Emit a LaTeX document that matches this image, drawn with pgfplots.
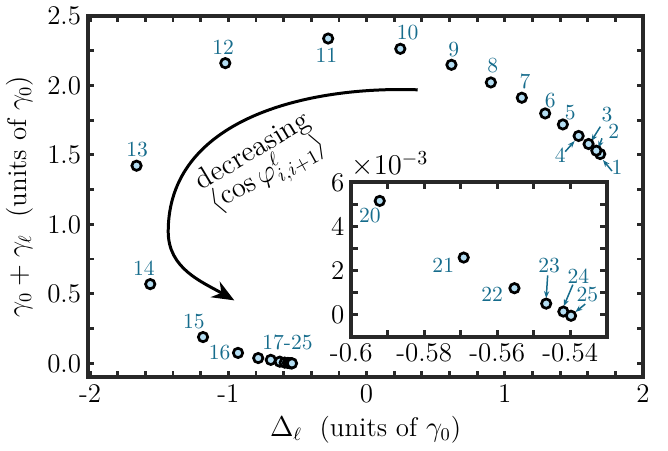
\documentclass[border=0pt]{standalone}
\usepackage{pgfplots}
\pgfplotsset{compat=1.18}
\usetikzlibrary{arrows.meta}

\definecolor{lblue}{RGB}{22,108,140}
\definecolor{mfill}{RGB}{180,222,243}
\definecolor{framec}{RGB}{40,40,40}

\pgfplotsset{
  boxframe/.style={
    scale only axis,
    axis line style={framec, line width=1.9bp},
    tick style={framec, line width=1.4bp},
    tick align=inside,
    major tick length=3.2bp,
    minor tick length=3.2bp,
    every tick label/.append style={font=\fontsize{13.5bp}{16bp}\selectfont},
    label style={font=\fontsize{13.5bp}{16bp}\selectfont},
    clip=false,
  },
  pts/.style={only marks, mark=*, mark size=2.35bp,
    mark options={fill=mfill, draw=black, line width=1.35bp}},
}
\tikzset{
  lbl/.style={text=lblue, font=\fontsize{10.8bp}{12bp}\selectfont, inner sep=0pt},
  lar/.style={-{Stealth[length=3.5bp,width=2.6bp]}, lblue, line width=0.75bp},
}

\begin{document}
\begin{tikzpicture}
\begin{axis}[boxframe,
  width=278bp, height=181bp,
  xmin=-2.015, xmax=2, ymin=-0.1, ymax=2.5,
  xtick={-2,-1,0,1,2}, xticklabels={-2,-1,0,1,2},
  minor xtick={-1.8,-1.6,-1.4,-1.2,-0.8,-0.6,-0.4,-0.2,0.2,0.4,0.6,0.8,1.2,1.4,1.6,1.8},
  ytick={0,0.5,1,1.5,2,2.5}, yticklabels={0.0,0.5,1.0,1.5,2.0,2.5},
  minor ytick={0.25,0.75,1.25,1.75,2.25},
  xlabel={$\Delta_\ell$\ \ (units of $\gamma_0$)},
  ylabel={$\gamma_0+\gamma_\ell$\ \ (units of $\gamma_0$)},
]
\addplot[pts] coordinates {
  (1.690,1.506) (1.662,1.530) (1.606,1.578) (1.534,1.636) (1.420,1.719)
  (1.292,1.798) (1.123,1.911) (0.899,2.021) (0.614,2.148) (0.244,2.263)
  (-0.278,2.337) (-1.022,2.160) (-1.664,1.422) (-1.565,0.570) (-1.183,0.189)
  (-0.930,0.075) (-0.784,0.038) (-0.693,0.025) (-0.628,0.012)
  (-0.5922,0.00516) (-0.5692,0.00259) (-0.5553,0.0012) (-0.5466,0.0005)
  (-0.5419,0.00014) (-0.5398,-0.00005)
};
% point labels
\node[lbl] at (axis cs:1.812,1.408) {1};
\node[lbl] at (axis cs:1.788,1.672) {2};
\node[lbl] at (axis cs:1.739,1.789) {3};
\node[lbl] at (axis cs:1.401,1.499) {4};
\node[lbl] at (axis cs:1.473,1.805) {5};
\node[lbl] at (axis cs:1.328,1.894) {6};
\node[lbl] at (axis cs:1.147,2.026) {7};
\node[lbl] at (axis cs:0.913,2.139) {8};
\node[lbl] at (axis cs:0.630,2.258) {9};
\node[lbl] at (axis cs:0.297,2.378) {10};
\node[lbl] at (axis cs:-0.290,2.218) {11};
\node[lbl] at (axis cs:-1.038,2.277) {12};
\node[lbl] at (axis cs:-1.659,1.535) {13};
\node[lbl] at (axis cs:-1.611,0.685) {14};
\node[lbl] at (axis cs:-1.249,0.297) {15};
\node[lbl] at (axis cs:-1.063,0.074) {16};
\node[lbl] at (axis cs:-0.572,0.153) {17-25};
\draw[lar] (axis cs:1.775,1.384) -- (axis cs:1.710,1.463);
\draw[lar] (axis cs:1.703,1.619) -- (axis cs:1.678,1.549);
\draw[lar] (axis cs:1.691,1.703) -- (axis cs:1.625,1.598);
\draw[lar] (axis cs:1.437,1.523) -- (axis cs:1.505,1.600);
% curved arrow and its text
\draw[line width=1.5bp, -{Stealth[length=11bp,width=9bp]}]
  (axis cs:0.37,1.968) to[out=178,in=90] (axis cs:-1.435,0.948)
  to[out=-90,in=150] (axis cs:-0.957,0.453);
\node[rotate=31, font=\fontsize{14.5bp}{16bp}\selectfont, inner sep=0pt]
  at (axis cs:-0.821,1.523) {decreasing};
\node[rotate=29, font=\fontsize{14.5bp}{16bp}\selectfont, inner sep=0pt]
  at (axis cs:-0.712,1.360) {$\langle\cos\varphi^{\ell}_{i,i+1}\rangle$};
\end{axis}

\begin{axis}[boxframe,
  at={(131.85bp,20.3bp)}, anchor=south west,
  width=128bp, height=77.3bp,
  axis background/.style={fill=white},
  xmin=-0.6, xmax=-0.53, ymin=-0.001, ymax=0.006,
  scaled ticks=false,
  xtick={-0.6,-0.58,-0.56,-0.54}, xticklabels={-0.6,-0.58,-0.56,-0.54},
  minor xtick={-0.59,-0.57,-0.55},
  ytick={0,0.002,0.004,0.006}, yticklabels={0,2,4,6},
  minor ytick={0.001,0.003,0.005},
]
\addplot[pts] coordinates {
  (-0.5922,0.00516) (-0.5692,0.00259) (-0.5553,0.0012) (-0.5466,0.0005)
  (-0.5419,0.00014) (-0.5398,-0.00005)
};
\node[anchor=south west, inner sep=0pt, yshift=2.5bp,
  font=\fontsize{14bp}{16bp}\selectfont] at (rel axis cs:0,1) {$\times10^{-3}$};
\node[lbl] at (axis cs:-0.5949,0.00448) {20};
\node[lbl] at (axis cs:-0.5748,0.00222) {21};
\node[lbl] at (axis cs:-0.5614,0.00090) {22};
\node[lbl] at (axis cs:-0.5458,0.00223) {23};
\node[lbl] at (axis cs:-0.5378,0.00176) {24};
\node[lbl] at (axis cs:-0.5353,0.00090) {25};
\draw[lar] (axis cs:-0.5462,0.00178) -- (axis cs:-0.5466,0.00075);
\draw[lar] (axis cs:-0.5393,0.00136) -- (axis cs:-0.5418,0.00038);
\draw[lar] (axis cs:-0.5359,0.00048) -- (axis cs:-0.5386,0.00012);
\end{axis}
\path[use as bounding box] (-43.5bp,-32bp) rectangle (290.5bp,188bp);
\end{tikzpicture}
\end{document}
